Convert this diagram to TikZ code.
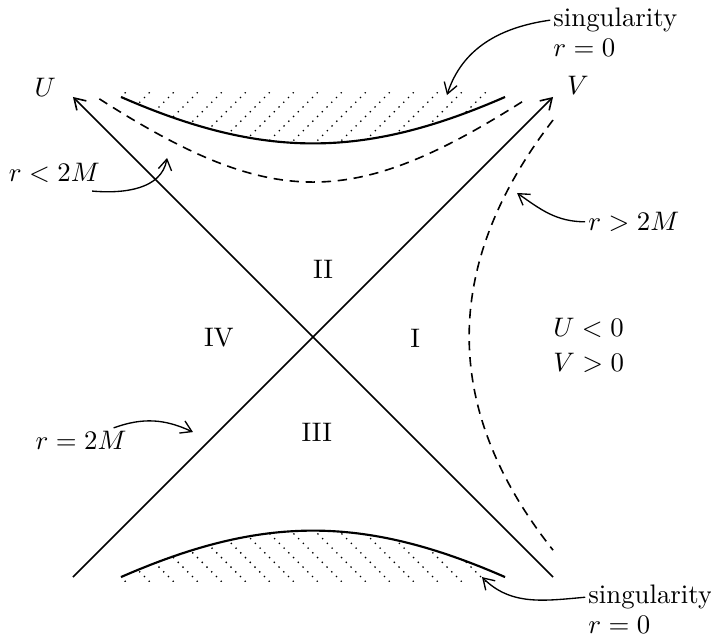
\documentclass[tikz,border=0pt]{standalone}
\usetikzlibrary{arrows.meta}
\begin{document}
\begin{tikzpicture}[x=0.63cm, y=0.63cm, >={Straight Barb[length=4pt,width=5pt]},
	lbl/.style={inner sep=1pt},
	horizon/.style={->, line width=0.6pt},
	sing/.style={line width=0.8pt},
	rconst/.style={line width=0.6pt, dash pattern=on 3.5pt off 2.5pt},
	hatch/.style={dotted, line width=0.5pt},
	callout/.style={->, line width=0.5pt}]
	\useasboundingbox (-6.52,-6.25) rectangle (8.29,7.02);
	% corners of the diagram
	\coordinate (ll) at (-5,-5);
	\coordinate (lr) at (5,-5);
	\coordinate (ul) at (-5,5);
	\coordinate (ur) at (5,5);
	\draw[horizon] (ll) -- (ur);
	\draw[horizon] (lr) -- (ul);
	% singularities
	\begin{scope}
		\clip (-4,5.1) -- (-4,5) .. controls (-1.05,3.71) and (1.05,3.71) .. (4,5) -- (4,5.1) -- cycle;
		\foreach \x in {-6,-5.5,...,4} \draw[hatch] (\x,3.5) -- ++(2,2);
	\end{scope}
	\begin{scope}
		\clip (-4,-5.1) -- (-4,-5) .. controls (-1.05,-3.71) and (1.05,-3.71) .. (4,-5) -- (4,-5.1) -- cycle;
		\foreach \x in {-6,-5.5,...,4} \draw[hatch] (\x,-3.5) -- ++(2,-2);
	\end{scope}
	\draw[sing] (-4,5) .. controls (-1.05,3.71) and (1.05,3.71) .. (4,5);
	\draw[sing] (-4,-5) .. controls (-1.05,-3.71) and (1.05,-3.71) .. (4,-5);
	% r = const
	\draw[rconst] (-4.45,4.96) .. controls (-0.835,2.65) and (0.835,2.65) .. (4.45,4.96);
	\draw[rconst] (5,4.52) .. controls (2.67,1.5) and (2.67,-1.5) .. (5,-4.44);
	% labels
	\node[lbl] (U) at (-5.58,5.21) {$U$};
	\node[lbl] (V) at (5.52,5.25) {$V$};
	\node[lbl] (I) at (2.13,-0.02) {I};
	\node[lbl] (II) at (0.21,1.40) {II};
	\node[lbl] (III) at (0.08,-1.98) {III};
	\node[lbl] (IV) at (-1.96,-0.02) {IV};
	\node[lbl, anchor=west] (uneg) at (4.94,0.19) {$U<0$};
	\node[lbl, anchor=west] (vpos) at (4.94,-0.54) {$V>0$};
	\node[lbl, anchor=west] (sgt) at (4.94,6.6) {singularity};
	\node[lbl, anchor=west] (sgtr) at (4.94,6.02) {$r=0$};
	\node[lbl, anchor=west] (sgb) at (5.67,-5.42) {singularity};
	\node[lbl, anchor=west] (sgbr) at (5.67,-6.0) {$r=0$};
	\node[lbl, anchor=west] (rgt) at (5.67,2.40) {$r>2M$};
	\node[lbl] (rlt) at (-5.39,3.42) {$r<2M$};
	\node[lbl] (req) at (-4.83,-2.15) {$r=2M$};
	% arrow ends
	\coordinate (sT) at (2.79,5.04);
	\coordinate (sB) at (3.52,-5.0);
	\coordinate (rout) at (4.25,3.0);
	\coordinate (rin) at (-3.04,3.73);
	\coordinate (hor) at (-2.5,-1.98);
	\draw[callout] (sgt.west) to[out=188,in=72] (sT);
	\draw[callout] (sgb.west) to[out=185,in=-45] (sB);
	\draw[callout] (rgt.west) to[out=180,in=-35] (rout);
	\draw[callout] ([xshift=-4pt,yshift=-2pt]rlt.south east) to[out=-5,in=-100] (rin);
	\draw[callout] ([xshift=-6pt]req.north east) to[out=20,in=155] (hor);
\end{tikzpicture}
\end{document}
